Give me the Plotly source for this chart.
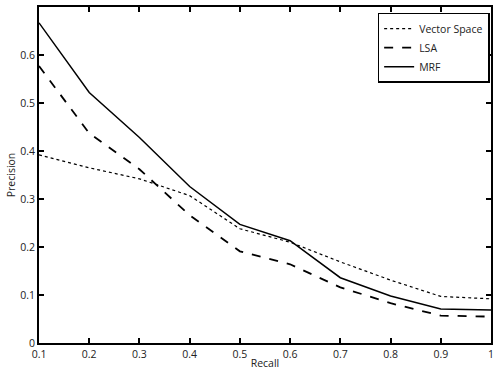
import plotly.graph_objects as go

# recall levels and precision per method
recall = [0.1, 0.2, 0.3, 0.4, 0.5, 0.6, 0.7, 0.8, 0.9, 1.0]
vector_space = [0.392, 0.365, 0.342, 0.307, 0.238, 0.210, 0.169, 0.131, 0.097, 0.092]
lsa = [0.577, 0.437, 0.362, 0.266, 0.191, 0.164, 0.116, 0.083, 0.057, 0.055]
mrf = [0.667, 0.522, 0.428, 0.326, 0.247, 0.213, 0.136, 0.098, 0.071, 0.069]

xticks = [0.1, 0.2, 0.3, 0.4, 0.5, 0.6, 0.7, 0.8, 0.9, 1.0]
xticklabels = ['0.1', '0.2', '0.3', '0.4', '0.5', '0.6', '0.7', '0.8', '0.9', '1']
yticks = [0, 0.1, 0.2, 0.3, 0.4, 0.5, 0.6, 0.7]
yticklabels = ['0', '0.1', '0.2', '0.3', '0.4', '0.5', '0.6', '0.7']

fig = go.Figure()
fig.add_trace(go.Scatter(x=recall, y=vector_space, name='Vector Space', mode='lines',
                         line=dict(color='black', width=1.2, dash='dot')))
fig.add_trace(go.Scatter(x=recall, y=lsa, name='LSA', mode='lines',
                         line=dict(color='black', width=1.8, dash='dash')))
fig.add_trace(go.Scatter(x=recall, y=mrf, name='MRF', mode='lines',
                         line=dict(color='black', width=1.5)))

axis_style = dict(showline=True, linecolor='black', linewidth=2, mirror='ticks',
                  ticks='inside', ticklen=5, tickwidth=1.5, tickcolor='black',
                  showgrid=False, zeroline=False, automargin=False,
                  tickfont=dict(size=10.5, color='#222'))

fig.update_xaxes(range=[0.1, 1.0], tickvals=xticks, ticktext=xticklabels,
                 title=dict(text='Recall', font=dict(size=10.5, color='#222'), standoff=0),
                 **axis_style)
fig.update_yaxes(range=[0, 0.7], tickvals=yticks, ticktext=yticklabels,
                 title=dict(text='Precision', font=dict(size=10.5, color='#222'), standoff=2),
                 **axis_style)

fig.update_layout(
    width=498, height=374,
    margin=dict(l=39, r=7, t=7, b=31),
    paper_bgcolor='white', plot_bgcolor='white',
    font=dict(family='Open Sans', size=10.5, color='#222'),
    legend=dict(x=0.997, y=0.983, xanchor='right', yanchor='top',
                bgcolor='white', bordercolor='black', borderwidth=1.5,
                font=dict(size=10.5), tracegroupgap=0, itemwidth=30),
    showlegend=True,
)

# drop the default 8px page margin and keep the page exactly the window's size
fig.write_html("out.html", config={'displayModeBar': False},
               post_script="document.body.style.margin='0';"
                           "document.body.style.overflow='hidden';"
                           "document.documentElement.style.overflow='hidden';"
                           "window.scrollTo(0, 0);")
